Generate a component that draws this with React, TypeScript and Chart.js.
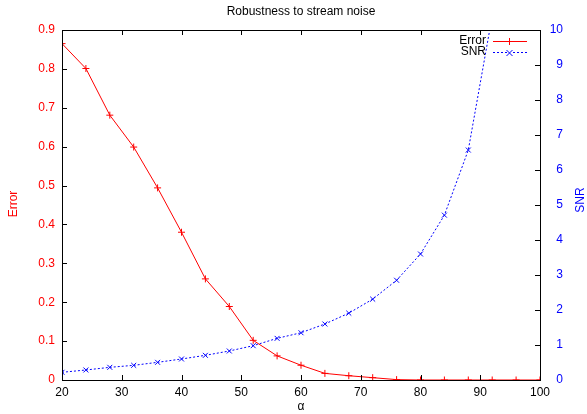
import React, { useEffect, useRef } from 'react';
import { Chart, registerables } from 'chart.js';

Chart.register(...registerables);

const titleText = 'Robustness to stream noise';
const xTitle = 'α';
const errorLabel = 'Error';
const snrLabel = 'SNR';

const errorAlpha = [20, 24, 28, 32, 36, 40, 44, 48, 52, 56, 60, 64, 68, 72, 76, 80, 84, 88, 92, 96, 100];
const errorValues = [0.865, 0.801, 0.681, 0.599, 0.494, 0.38, 0.26, 0.189, 0.102, 0.062, 0.038, 0.017, 0.011, 0.006, 0.001, 0, 0, 0, 0, 0, 0];

const snrAlpha = [20, 24, 28, 32, 36, 40, 44, 48, 52, 56, 60, 64, 68, 72, 76, 80, 84, 88, 92];
const snrValues = [0.22, 0.286, 0.362, 0.419, 0.505, 0.6, 0.705, 0.829, 0.98, 1.19, 1.35, 1.6, 1.91, 2.31, 2.85, 3.6, 4.71, 6.57, 10.4];

const xTicks = [20, 30, 40, 50, 60, 70, 80, 90, 100];
const errorTicks = [0, 0.1, 0.2, 0.3, 0.4, 0.5, 0.6, 0.7, 0.8, 0.9];
const snrTicks = [0, 1, 2, 3, 4, 5, 6, 7, 8, 9, 10];

const RED = 'rgb(255,0,0)';
const BLUE = 'rgb(0,0,255)';
const FONT = "'Liberation Sans', Arial, Helvetica, sans-serif";

const decorPlugin = {
  id: 'decor',
  afterDraw(chart: any) {
    const ctx = chart.ctx;
    const { left, right, top, bottom } = chart.chartArea;
    const sx = chart.scales.x;
    const sy = chart.scales.y;
    const sy2 = chart.scales.y2;
    ctx.save();
    ctx.setLineDash([]);
    // frame
    ctx.strokeStyle = '#000';
    ctx.lineWidth = 1;
    ctx.strokeRect(Math.round(left) + 0.5, Math.round(top) + 0.5, Math.round(right - left), Math.round(bottom - top));
    const tl = 5;
    ctx.beginPath();
    xTicks.forEach((v) => {
      const px = Math.round(sx.getPixelForValue(v)) + 0.5;
      ctx.moveTo(px, bottom);
      ctx.lineTo(px, bottom - tl);
      ctx.moveTo(px, top);
      ctx.lineTo(px, top + tl);
    });
    errorTicks.forEach((v) => {
      const py = Math.round(sy.getPixelForValue(v)) + 0.5;
      ctx.moveTo(left, py);
      ctx.lineTo(left + tl, py);
    });
    snrTicks.forEach((v) => {
      const py = Math.round(sy2.getPixelForValue(v)) + 0.5;
      ctx.moveTo(right, py);
      ctx.lineTo(right - tl, py);
    });
    ctx.stroke();

    // legend
    const lx0 = 493;
    const lx1 = 527;
    const mx = 509;
    ctx.font = `12px ${FONT}`;
    ctx.textBaseline = 'middle';
    ctx.textAlign = 'right';
    ctx.fillStyle = '#000';
    ctx.fillText(errorLabel, 486, 41);
    ctx.fillText(snrLabel, 486, 52);

    // Error sample: solid red line with plus marker
    ctx.fillStyle = RED;
    ctx.fillRect(lx0, 41, lx1 - lx0, 1);
    ctx.fillRect(mx, 38, 1, 7);
    // SNR sample: dotted blue line with x marker
    ctx.fillStyle = BLUE;
    for (let x = lx0; x < lx1; x += 4) {
      if (Math.abs(x - mx) > 3) ctx.fillRect(x, 52, 2, 1);
    }
    ctx.strokeStyle = BLUE;
    ctx.lineWidth = 1;
    ctx.beginPath();
    ctx.moveTo(mx - 2.5, 50);
    ctx.lineTo(mx + 3.5, 56);
    ctx.moveTo(mx - 2.5, 56);
    ctx.lineTo(mx + 3.5, 50);
    ctx.stroke();

    // texts
    ctx.textAlign = 'center';
    ctx.fillStyle = '#000';
    ctx.fillText(titleText, (left + right) / 2, 12);
    ctx.fillText(xTitle, (left + right) / 2, 407);

    ctx.save();
    ctx.translate(14, 204);
    ctx.rotate(-Math.PI / 2);
    ctx.fillStyle = RED;
    ctx.fillText(errorLabel, 0, 0);
    ctx.restore();

    ctx.save();
    ctx.translate(581, 200);
    ctx.rotate(-Math.PI / 2);
    ctx.fillStyle = BLUE;
    ctx.fillText(snrLabel, 0, 0);
    ctx.restore();

    ctx.restore();
  },
};

export default function App() {
  const ref = useRef<HTMLCanvasElement | null>(null);
  useEffect(() => {
    document.body.style.margin = '0';
    const canvas = ref.current;
    if (!canvas) return;
    Chart.defaults.font.family = FONT;
    Chart.defaults.font.size = 12;
    const chart = new Chart(canvas, {
      type: 'line',
      data: {
        datasets: [
          {
            label: errorLabel,
            data: errorAlpha.map((a, i) => ({ x: a, y: errorValues[i] })),
            borderColor: RED,
            backgroundColor: RED,
            borderWidth: 1,
            pointStyle: 'cross',
            pointRadius: 3.5,
            pointBorderWidth: 1,
            pointBorderColor: RED,
            tension: 0,
            yAxisID: 'y',
          },
          {
            label: snrLabel,
            data: snrAlpha.map((a, i) => ({ x: a, y: snrValues[i] })),
            borderColor: BLUE,
            backgroundColor: BLUE,
            borderWidth: 1,
            borderDash: [2, 2],
            pointStyle: 'crossRot',
            pointRadius: 3.5,
            pointBorderWidth: 1,
            pointBorderColor: BLUE,
            tension: 0,
            yAxisID: 'y2',
          },
        ],
      },
      options: {
        responsive: false,
        animation: false,
        events: [],
        layout: { padding: { top: 30, right: 24, left: 0, bottom: 0 } },
        plugins: {
          legend: { display: false },
          title: { display: false },
          tooltip: { enabled: false },
        },
        scales: {
          x: {
            type: 'linear',
            min: 20,
            max: 100,
            afterBuildTicks: (s: any) => {
              s.ticks = xTicks.map((v) => ({ value: v }));
            },
            afterFit: (s: any) => {
              s.height = 34;
            },
            grid: { display: false, drawTicks: false },
            border: { display: false },
            ticks: { color: '#000', padding: 5, maxRotation: 0, font: { size: 12 } },
          },
          y: {
            type: 'linear',
            position: 'left',
            min: 0,
            max: 0.9,
            afterBuildTicks: (s: any) => {
              s.ticks = errorTicks.map((v) => ({ value: v }));
            },
            afterFit: (s: any) => {
              s.width = 62;
            },
            grid: { display: false, drawTicks: false },
            border: { display: false },
            ticks: {
              color: RED,
              padding: 7,
              font: { size: 12 },
              callback: (v: any) => String(Number(Number(v).toFixed(1))),
            },
          },
          y2: {
            type: 'linear',
            position: 'right',
            min: 0,
            max: 10,
            afterBuildTicks: (s: any) => {
              s.ticks = snrTicks.map((v) => ({ value: v }));
            },
            afterFit: (s: any) => {
              s.width = 23;
            },
            grid: { display: false, drawTicks: false },
            border: { display: false },
            ticks: { color: BLUE, padding: 4, crossAlign: 'far', font: { size: 12 } },
          },
        },
      },
      plugins: [decorPlugin],
    } as any);
    return () => chart.destroy();
  }, []);
  return <canvas ref={ref} width={587} height={414} style={{ display: 'block' }} />;
}
